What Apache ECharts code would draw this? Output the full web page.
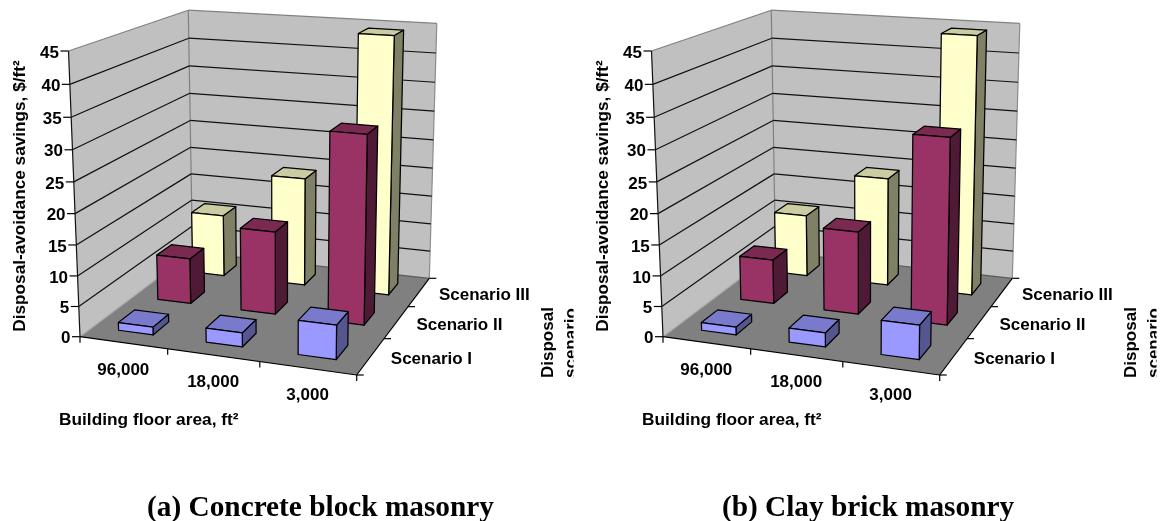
<!DOCTYPE html>
<html>
<head>
<meta charset="utf-8">
<style>html,body{margin:0;padding:0;background:#fff}#c{width:1161px;height:521px}</style>
<script src="https://cdn.jsdelivr.net/npm/echarts@6/dist/echarts.min.js"></script>
</head>
<body>
<div id="c"></div>
<script>
const floorAreas = ['96,000', '18,000', '3,000'];
const scenarios = ['Scenario I', 'Scenario II', 'Scenario III'];
const yTicks = [0, 5, 10, 15, 20, 25, 30, 35, 40, 45];

const concreteScenarioI = [1.3, 2.3, 5.5];
const concreteScenarioII = [7.8, 14, 31.3];
const concreteScenarioIII = [11, 19, 44.3];

const clayScenarioI = [1.3, 2.3, 5.5];
const clayScenarioII = [7.6, 14, 30.8];
const clayScenarioIII = [11, 19, 44.3];

const captions = ['(a) Concrete block masonry', '(b) Clay brick masonry'];
const yTitle = 'Disposal-avoidance savings, $/ft\u00B2';
const xTitle = 'Building floor area, ft\u00B2';
const zTitleLines = ['Disposal', 'scenario'];

const barColors = [
  { front: '#9999FF', top: '#7A7ACC', side: '#555590' },
  { front: '#993366', top: '#7A2950', side: '#4F1A35' },
  { front: '#FFFFCC', top: '#CCCCA3', side: '#808066' }
];

/* Oblique view: floor corners of the box and the height of its front-left edge */
const FL = [80, 336.7], FR = [356.7, 375], BR = [429.3, 278.3], BL = [192.5, 252], TFL = [68.5, 51];
const R = -0.054, YCORR = 2.1, BAR_RATIO = 0.4;
const den = (FR[0] - BR[0]) * (BL[1] - BR[1]) - (BL[0] - BR[0]) * (FR[1] - BR[1]);
const sx = FL[0] - FR[0] + BR[0] - BL[0], sy = FL[1] - FR[1] + BR[1] - BL[1];
const G = (sx * (BL[1] - BR[1]) - (BL[0] - BR[0]) * sy) / den;
const K = ((FR[0] - BR[0]) * sy - sx * (FR[1] - BR[1])) / den;
const AX = FR[0] - FL[0] + G * FR[0], AY = FR[1] - FL[1] + G * FR[1];
const BX = BL[0] - FL[0] + K * BL[0], BY = BL[1] - FL[1] + K * BL[1];
const CX = TFL[0] * (1 + R) - FL[0], CY = TFL[1] * (1 + R) - FL[1];
function project(dx, u, v, h) {
  const w = 1 + G * u + K * v + R * h;
  return [(FL[0] + AX * u + BX * v + CX * h) / w + dx,
          (FL[1] + AY * u + BY * v + CY * h + YCORR * u * h) / w];
}

const FONT = { fontFamily: '"Liberation Sans", Arial, sans-serif', fontWeight: 'bold', fontSize: 17, fill: '#000' };
const line = (a, b, stroke, lineWidth) => ({ type: 'line', shape: { x1: a[0], y1: a[1], x2: b[0], y2: b[1] }, style: { stroke: stroke, lineWidth: lineWidth || 1.2, fill: null } });
const poly = (pts, fill, stroke) => ({ type: 'polygon', shape: { points: pts }, style: { fill: fill, stroke: stroke || null, lineWidth: stroke ? 1.25 : 0, lineJoin: 'round' } });
const text = (t, x, y, align, extra) => ({ type: 'text', style: Object.assign({ text: t, x: x, y: y, align: align, verticalAlign: 'middle' }, FONT, extra || {}) });

const panels = [
  { dx: 0, series: [concreteScenarioI, concreteScenarioII, concreteScenarioIII] },
  { dx: 583, series: [clayScenarioI, clayScenarioII, clayScenarioIII] }
];

const grids = [], xAxes = [], yAxes = [], series = [];
panels.forEach((panel, p) => {
  const dx = panel.dx;
  const G_L = FL[0] + dx, G_W = FR[0] - FL[0], G_T = TFL[1], G_H = FL[1] - TFL[1];
  grids.push({ left: G_L, top: G_T, width: G_W, height: G_H });
  xAxes.push({ gridIndex: p, type: 'category', data: floorAreas, show: false });
  yAxes.push({ gridIndex: p, type: 'value', min: 0, max: 45, interval: 5, show: false });
  const P = (u, v, h) => project(dx, u, v, h);
  const toH = (api, val) => (G_T + G_H - api.coord([0, val])[1]) / G_H;
  const base = { type: 'custom', xAxisIndex: p, yAxisIndex: p, coordinateSystem: 'cartesian2d', clip: false, silent: true, animation: false, encode: { x: 0, y: 1 } };

  // walls and floor
  series.push(Object.assign({}, base, {
    z: 1, data: [[0, 0]],
    renderItem: () => ({ type: 'group', children: [
      poly([P(0, 0, 0), P(0, 1, 0), P(0, 1, 1), P(0, 0, 1)], '#C0C0C0'),
      poly([P(0, 1, 0), P(1, 1, 0), P(1, 1, 1), P(0, 1, 1)], '#C0C0C0'),
      line(P(0, 1, 0), P(0, 1, 1), '#808080', 1.2),
      line(P(1, 1, 0), P(1, 1, 1), '#8c8c8c', 1.2),
      poly([P(0, 0, 0), P(1, 0, 0), P(1, 1, 0), P(0, 1, 0)], '#808080')
    ] })
  }));

  // value ticks, gridlines, labels
  series.push(Object.assign({}, base, {
    z: 2, data: yTicks.map(t => [0, t]),
    renderItem: (params, api) => {
      const val = api.value(1), h = toH(api, val);
      const a = P(0, 0, h), b = P(0, 1, h), c = P(1, 1, h);
      const edge = val === 45 ? '#808080' : (val === 0 ? '#5a5a5a' : '#111');
      return { type: 'group', children: [
        line(a, b, val === 0 ? '#a8a8a8' : edge),
        line(b, c, edge),
        line([a[0] - 8, a[1]], a, '#000'),
        text(String(val), a[0] - 9.5, a[1] + 2, 'right')
      ] };
    }
  }));

  // axis lines of the box
  series.push(Object.assign({}, base, {
    z: 2, data: [[0, 0]],
    renderItem: () => {
      const kids = [
        line(P(0, 0, 0), P(0, 0, 1), '#111'),
        line(P(0, 0, 0), P(1, 0, 0), '#000'),
        line(P(1, 0, 0), P(1, 1, 0), '#000')
      ];
      [0, 1, 2, 3].forEach(i => {
        const e = P(i / 3, 0, 0);
        kids.push(line(e, [e[0], e[1] + 6], '#000'));
        const s = P(1, i / 3, 0);
        kids.push(line(s, [s[0] + 7, s[1]], '#000'));
      });
      return { type: 'group', children: kids };
    }
  }));

  // bars: back row first, so that nearer rows cover it
  [2, 1, 0].forEach(s => {
    const col = barColors[s], v0 = (s + 0.5 - BAR_RATIO / 2) / 3, v1 = (s + 0.5 + BAR_RATIO / 2) / 3;
    series.push(Object.assign({}, base, {
      name: scenarios[s], z: 3 + (2 - s),
      data: panel.series[s].map((val, i) => [i, val]),
      renderItem: (params, api) => {
        const pt = api.coord([api.value(0), api.value(1)]);
        const band = api.size([1, 0])[0];
        const uc = (pt[0] - G_L) / G_W, du = band * BAR_RATIO / 2 / G_W;
        const u0 = uc - du, u1 = uc + du, h = (G_T + G_H - pt[1]) / G_H;
        return { type: 'group', children: [
          poly([P(u1, v0, 0), P(u1, v1, 0), P(u1, v1, h), P(u1, v0, h)], col.side, '#000'),
          poly([P(u0, v0, h), P(u1, v0, h), P(u1, v1, h), P(u0, v1, h)], col.top, '#000'),
          poly([P(u0, v0, 0), P(u1, v0, 0), P(u1, v0, h), P(u0, v0, h)], col.front, '#000')
        ] };
      }
    }));
  });

  // floor-area labels
  series.push(Object.assign({}, base, {
    z: 8, data: floorAreas.map((n, i) => [i, 0]),
    renderItem: (params, api) => {
      const i = api.value(0), uc = (api.coord([i, 0])[0] - G_L) / G_W, e = P(uc, 0, 0);
      return text(floorAreas[i], e[0], e[1] + 27.5, 'center');
    }
  }));
  // scenario labels and titles
  series.push(Object.assign({}, base, {
    z: 8, data: scenarios.map((n, i) => [0, 0]),
    renderItem: (params) => {
      const i = params.dataIndex, e = P(1, (i + 0.5) / 3, 0);
      return text(scenarios[i], e[0] + 20, e[1] + 3, 'left');
    }
  }));
  series.push(Object.assign({}, base, {
    z: 8, data: [[0, 0]],
    renderItem: () => ({
      type: 'group',
      clipPath: { type: 'rect', shape: { x: dx, y: 0, width: 573.5, height: 521 } },
      children: [
        { type: 'text', x: 20 + dx, y: 196, rotation: Math.PI / 2, style: Object.assign({ text: yTitle, align: 'center', verticalAlign: 'middle' }, FONT, { fontSize: 17.2 }) },
        { type: 'text', x: 59 + dx, y: 420, style: Object.assign({ text: xTitle, align: 'left', verticalAlign: 'middle' }, FONT, { fontSize: 17.3 }) },
        { type: 'text', x: 548.5 + dx, y: 378, rotation: Math.PI / 2, style: Object.assign({ text: zTitleLines[0], align: 'left', verticalAlign: 'middle' }, FONT) },
        { type: 'text', x: 571 + dx, y: 378, rotation: Math.PI / 2, style: Object.assign({ text: zTitleLines[1], align: 'left', verticalAlign: 'middle' }, FONT) }
      ]
    })
  }));
});

const captionStyle = { fontFamily: '"Liberation Serif", "Times New Roman", serif', fontWeight: 'bold', fontSize: 29.3, color: '#000' };
const chart = echarts.init(document.getElementById('c'), null, { renderer: 'canvas' });
chart.setOption({
  backgroundColor: '#fff',
  animation: false,
  tooltip: { show: false },
  title: [
    { text: captions[0], left: 315.5, top: 503, textAlign: 'center', textVerticalAlign: 'middle', textStyle: captionStyle },
    { text: captions[1], left: 863, top: 503, textAlign: 'center', textVerticalAlign: 'middle', textStyle: captionStyle }
  ],
  grid: grids,
  xAxis: xAxes,
  yAxis: yAxes,
  series: series
});
</script>
</body>
</html>
